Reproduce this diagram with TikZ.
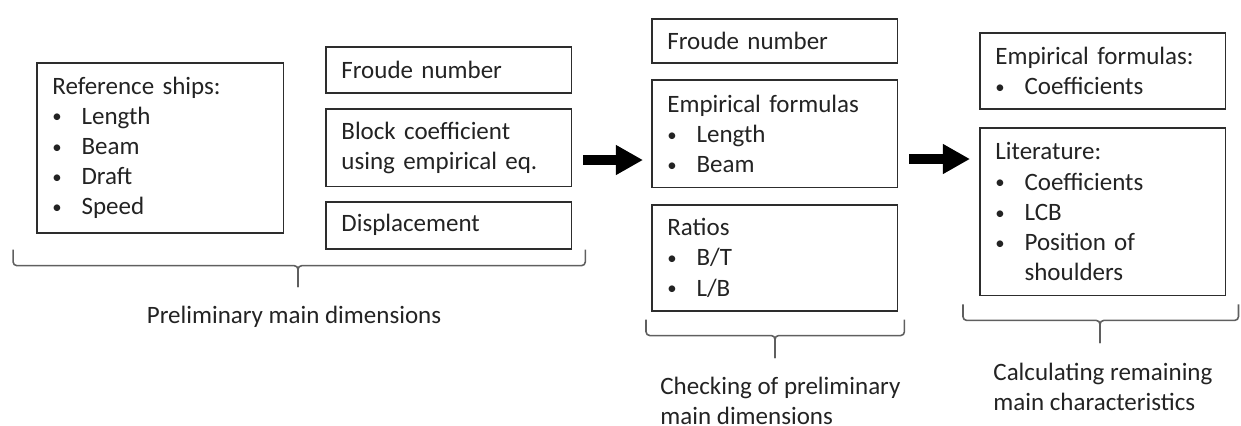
\documentclass[tikz,border=0pt,12pt]{standalone}
\usepackage{fontspec}
\setmainfont{Carlito}
\usetikzlibrary{arrows.meta}
\definecolor{boxGray}{RGB}{45,45,45}
\definecolor{braceGray}{RGB}{95,95,95}
\definecolor{textGray}{RGB}{35,35,35}
\newcommand{\bul}{\makebox[14pt][l]{\raisebox{0.6pt}{\scalebox{0.75}{\textbullet}}}}
\newcommand{\ind}{\hspace*{14pt}}
\tikzset{
	infobox/.style={draw=boxGray,line width=0.75pt,anchor=north west,align=left,inner xsep=7.5pt,inner ysep=0pt,text=textGray,text width=103pt},
	bigarrow/.style={line width=4.8pt,-{Triangle[length=13pt,width=13.5pt]}},
	brc/.style={draw=braceGray,line width=0.75pt,rounded corners=1.8pt},
	lbl/.style={text=textGray,inner sep=0pt}
}

\begin{document}
\begin{tikzpicture}[x=0.48pt,y=-0.48pt]
		\useasboundingbox (0,0) rectangle (1241,425);
		% preliminary main dimensions
		\begin{scope}
			\node[infobox,text width=103.5pt,minimum height=81.6pt] (ref) at (36,62) {Reference ships:\\ \bul Length\\ \bul Beam\\ \bul Draft\\ \bul Speed};
			\node[infobox,minimum height=22.1pt] (fr1) at (325,46) {Froude number};
			\node[infobox,minimum height=37.4pt] (block) at (325,108) {Block coefficient\\using empirical eq.};
			\node[infobox,minimum height=22.6pt] (disp) at (325,201) {Displacement};
			\coordinate (b1r) at ([xshift=6.2pt]disp.south east);
			\coordinate (b1l) at ([xshift=-11pt]ref.west |- disp.south east);
			\coordinate (b1t) at (298,287);
			\draw[brc] (b1r) -- ++(0,16) -| (b1t);
			\draw[brc] (b1l) -- ++(0,16) -| (b1t);
			\node[lbl] (prelim) at (294,317) {Preliminary main dimensions};
		\end{scope}
		
		\coordinate (a1s) at (583,160);
		\coordinate (a1e) at (643,160);
		\draw[bigarrow] (a1s) -- (a1e);
		
		% checking
		\begin{scope}
			\node[infobox,minimum height=21.1pt] (fr2) at (651,18) {Froude number};
			\node[infobox,minimum height=51.8pt] (emp) at (651,79) {Empirical formulas\\ \bul Length\\ \bul Beam};
			\node[infobox,minimum height=50.9pt] (ratio) at (651,204) {Ratios\\ \bul B/T\\ \bul L/B};
			\coordinate (b2r) at ([shift={(2.9pt,-3.8pt)}]ratio.south east);
			\coordinate (b2l) at ([shift={(-2.4pt,-3.8pt)}]ratio.south west);
			\coordinate (b2t) at (775,358);
			\draw[brc] (b2r) -- ++(0,16) -| (b2t);
			\draw[brc] (b2l) -- ++(0,16) -| (b2t);
			\node[lbl,anchor=north west,align=left] (check) at (660,377) {Checking of preliminary\\main dimensions};
		\end{scope}
		
		\coordinate (a2s) at (909,159);
		\coordinate (a2e) at (970,159);
		\draw[bigarrow] (a2s) -- (a2e);
		
		% remaining characteristics
		\begin{scope}
			\node[infobox,minimum height=36.5pt] (emp2) at (979,32) {Empirical formulas:\\ \bul Coefficients};
			\node[infobox,minimum height=80.6pt] (lit) at (979,127) {Literature:\\ \bul Coefficients\\ \bul LCB\\ \bul Position of\\ \ind shoulders};
			\coordinate (b3r) at ([shift={(5.8pt,-3.8pt)}]lit.south east);
			\coordinate (b3l) at ([shift={(-7.7pt,-3.8pt)}]lit.south west);
			\coordinate (b3t) at (1100,343);
			\draw[brc] (b3r) -- ++(0,16) -| (b3t);
			\draw[brc] (b3l) -- ++(0,16) -| (b3t);
			\node[lbl,anchor=north west,align=left] (calc) at (993,363) {Calculating remaining\\main characteristics};
		\end{scope}
	\end{tikzpicture}
\end{document}
